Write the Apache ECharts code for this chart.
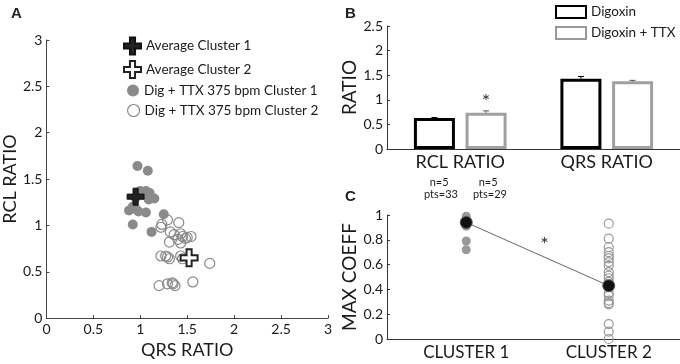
<!DOCTYPE html>
<html>
<head>
<meta charset="utf-8">
<script src="https://cdn.jsdelivr.net/npm/echarts@6/dist/echarts.min.js"></script>
<style>
  html, body { margin: 0; padding: 0; background: #fff; }
  #chart { width: 680px; height: 364px; }
</style>
</head>
<body>
<div id="chart"></div>
<script>
// A: RCL ratio vs QRS ratio
const cluster1Pts = [
  [0.97, 1.64], [1.08, 1.59], [1.0, 1.37], [1.06, 1.37], [1.1, 1.35], [1.15, 1.29],
  [1.09, 1.28], [0.95, 1.3], [0.88, 1.16], [0.95, 1.18], [0.92, 1.2], [1.06, 1.14],
  [0.98, 1.15], [0.92, 1.01], [1.12, 0.93], [1.25, 1.12]
];
const cluster2Pts = [
  [1.22, 0.98], [1.23, 1.01], [1.29, 1.06], [1.41, 1.03], [1.32, 0.93], [1.36, 0.9],
  [1.43, 0.91], [1.45, 0.88], [1.5, 0.87], [1.54, 0.88], [1.48, 0.86], [1.31, 0.82],
  [1.43, 0.81], [1.4, 0.85], [1.22, 0.67], [1.27, 0.67], [1.31, 0.64], [1.29, 0.66],
  [1.43, 0.67], [1.45, 0.64], [1.74, 0.59], [1.2, 0.35], [1.29, 0.37], [1.34, 0.38],
  [1.37, 0.35], [1.35, 0.37], [1.56, 0.39]
];
const avgCluster1 = [0.95, 1.31];
const avgCluster2 = [1.52, 0.65];

// B: mean ratios
const ratioCats = ["RCL RATIO", "QRS RATIO"];
const digoxin = [0.63, 1.43];
const digoxinErr = [0.01, 0.045];
const digoxinTtx = [0.735, 1.375];
const digoxinTtxErr = [0.04, 0.02];

// C: max coefficient per cluster
const coeffCluster1 = [0.99, 0.97, 0.96, 0.95, 0.94, 0.93, 0.92, 0.91, 0.79, 0.72];
const coeffCluster2 = [
  0.93, 0.81, 0.74, 0.7, 0.67, 0.65, 0.62, 0.59, 0.54, 0.51, 0.49, 0.46, 0.42,
  0.37, 0.35, 0.31, 0.29, 0.28, 0.12, 0.06, 0.0
];
const coeffMeans = [0.94, 0.43];

const FONT = "Lato";
const TXT = "#1a1a1a";
const plusPath = "path://M35,0H65V35H100V65H65V100H35V65H0V35H35Z";
const axisCol = "#444";

const chart = echarts.init(document.getElementById("chart"));

const tickLabel = { fontFamily: FONT, fontSize: 14, color: TXT };
const nameStyle = { fontFamily: FONT, fontSize: 18, color: TXT };
const legendText = { fontFamily: FONT, fontSize: 13.5, color: TXT };
const openCircle = { color: "rgba(255,255,255,0)", borderColor: "#8a8a8a", borderWidth: 1.2, opacity: 1 };

function errBars(vals, errs, off, col) {
  return {
    type: "custom",
    xAxisIndex: 1,
    yAxisIndex: 1,
    z: 5,
    data: vals.map((v, i) => [i, v, v + errs[i]]),
    renderItem: function (params, api) {
      const base = api.coord([api.value(0), api.value(1)]);
      const top = api.coord([api.value(0), api.value(2)]);
      const x = base[0] + off;
      return {
        type: "group",
        children: [
          { type: "line", shape: { x1: x, y1: base[1], x2: x, y2: top[1] }, style: { stroke: col, lineWidth: 1 } },
          { type: "line", shape: { x1: x - 3, y1: top[1], x2: x + 3, y2: top[1] }, style: { stroke: col, lineWidth: 1 } },
        ],
      };
    },
  };
}

const option = {
  animation: false,
  textStyle: { fontFamily: FONT },
  grid: [
    { left: 45, top: 40, width: 283, height: 283 },
    { left: 387, top: 26, width: 312, height: 123 },
    { left: 387, top: 215, width: 310, height: 124 },
  ],
  legend: [
    {
      left: 123, top: 36.5, padding: 0, itemWidth: 17, itemHeight: 17, itemGap: 0,
      textStyle: legendText, data: ["Average Cluster 1"],
    },
    {
      left: 123, top: 60, padding: 0, itemWidth: 17, itemHeight: 17, itemGap: 0,
      textStyle: legendText, data: ["Average Cluster 2"],
    },
    {
      left: 127, top: 83.5, padding: 0, itemWidth: 12, itemHeight: 12,
      textStyle: legendText, data: ["Dig + TTX 375 bpm Cluster 1"],
    },
    {
      left: 127, top: 103.5, padding: 0, itemWidth: 12, itemHeight: 12,
      textStyle: legendText,
      data: [{ name: "Dig + TTX 375 bpm Cluster 2", itemStyle: openCircle }],
    },
    {
      left: 555, top: 5, padding: 0, orient: "vertical", itemWidth: 30, itemHeight: 12, itemGap: 7,
      icon: "rect", textStyle: legendText,
      data: [
        { name: "Digoxin", itemStyle: { color: "#fff", borderColor: "#000", borderWidth: 2 } },
        { name: "Digoxin + TTX", itemStyle: { color: "#fff", borderColor: "#999", borderWidth: 2 } },
      ],
    },
  ],
  xAxis: [
    {
      gridIndex: 0, type: "value", min: 0, max: 3, interval: 0.5,
      name: "QRS RATIO", nameLocation: "middle", nameGap: 16, nameTextStyle: nameStyle,
      axisLine: { lineStyle: { color: axisCol } },
      axisTick: { inside: true, length: 3, lineStyle: { color: axisCol } },
      axisLabel: Object.assign({ margin: 4 }, tickLabel),
      splitLine: { show: false },
    },
    {
      gridIndex: 1, type: "category", data: ratioCats,
      axisLine: { lineStyle: { color: "#333" } },
      axisTick: { show: false },
      axisLabel: { fontFamily: FONT, fontSize: 18, color: TXT, margin: 4 },
    },
    {
      gridIndex: 2, type: "value", min: 0.444, max: 2.5,
      axisLine: { lineStyle: { color: "#333" } },
      axisTick: { show: false },
      axisLabel: {
        customValues: [1, 2],
        formatter: (v) => (v === 1 ? "CLUSTER 1" : "CLUSTER 2"),
        fontFamily: FONT, fontSize: 17, color: TXT, margin: 5,
      },
      splitLine: { show: false },
    },
  ],
  yAxis: [
    {
      gridIndex: 0, type: "value", min: 0, max: 3, interval: 0.5,
      name: "RCL RATIO", nameLocation: "middle", nameGap: 25, nameTextStyle: nameStyle,
      axisLine: { lineStyle: { color: axisCol } },
      axisTick: { inside: true, length: 3, lineStyle: { color: axisCol } },
      axisLabel: Object.assign({ margin: 4 }, tickLabel),
      splitLine: { show: false },
    },
    {
      gridIndex: 1, type: "value", min: 0, max: 2.5, interval: 0.5,
      name: "RATIO", nameLocation: "middle", nameGap: 26, nameTextStyle: Object.assign({}, nameStyle, { fontSize: 19 }),
      axisLine: { show: true, lineStyle: { color: "#333" } },
      axisTick: { show: true, inside: true, length: 3, lineStyle: { color: "#333" } },
      axisLabel: Object.assign({ margin: 4 }, tickLabel),
      splitLine: { show: false },
    },
    {
      gridIndex: 2, type: "value", min: 0, max: 1, interval: 0.2,
      name: "MAX COEFF", nameLocation: "middle", nameGap: 26, nameTextStyle: Object.assign({}, nameStyle, { fontSize: 19 }),
      axisLine: { show: true, lineStyle: { color: "#333" } },
      axisTick: { show: true, inside: true, length: 3, lineStyle: { color: "#333" } },
      axisLabel: Object.assign({ margin: 4 }, tickLabel),
      splitLine: { show: false },
    },
  ],
  series: [
    // A
    {
      name: "Dig + TTX 375 bpm Cluster 1", type: "scatter", xAxisIndex: 0, yAxisIndex: 0,
      symbol: "circle", symbolSize: 10, data: cluster1Pts,
      itemStyle: { color: "#8a8a8a", opacity: 1 },
    },
    {
      name: "Dig + TTX 375 bpm Cluster 2", type: "scatter", xAxisIndex: 0, yAxisIndex: 0,
      symbol: "circle", symbolSize: 10, data: cluster2Pts,
      itemStyle: openCircle,
    },
    {
      name: "Average Cluster 1", type: "scatter", xAxisIndex: 0, yAxisIndex: 0, z: 5,
      symbol: plusPath, symbolSize: 17, data: [avgCluster1],
      itemStyle: { color: "#222", borderColor: "#111", borderWidth: 1, opacity: 1 },
    },
    {
      name: "Average Cluster 2", type: "scatter", xAxisIndex: 0, yAxisIndex: 0, z: 5,
      symbol: plusPath, symbolSize: 17, data: [avgCluster2],
      itemStyle: { color: "#fff", borderColor: "#222", borderWidth: 2, opacity: 1 },
    },
    // B
    {
      name: "Digoxin", type: "bar", xAxisIndex: 1, yAxisIndex: 1,
      barWidth: 41, barGap: "26%", data: digoxin,
      itemStyle: { color: "#fff", borderColor: "#000", borderWidth: 3 },
    },
    {
      name: "Digoxin + TTX", type: "bar", xAxisIndex: 1, yAxisIndex: 1,
      barWidth: 41, data: digoxinTtx.map((v, i) => (i === 0 ? {
        value: v,
        label: { show: true, position: "top", distance: 1, formatter: "*", fontFamily: FONT, fontSize: 20, color: "#333" },
      } : v)),
      itemStyle: { color: "#fff", borderColor: "#a0a0a0", borderWidth: 3 },
    },
    errBars(digoxin, digoxinErr, -25.8, "#000"),
    errBars(digoxinTtx, digoxinTtxErr, 25.8, "#555"),
    // C
    {
      type: "line", xAxisIndex: 2, yAxisIndex: 2, z: 3,
      data: [[1, coeffMeans[0]], [2, coeffMeans[1]]], symbol: "none",
      lineStyle: { color: "#666", width: 1 },
      markPoint: {
        symbol: "circle", symbolSize: 0,
        label: { show: true, formatter: "*", fontFamily: FONT, fontSize: 20, color: "#333" },
        data: [{ coord: [1.55, 0.76] }],
      },
    },
    {
      type: "scatter", xAxisIndex: 2, yAxisIndex: 2, z: 2,
      symbol: "circle", symbolSize: 9, data: coeffCluster1.map((v) => [1, v]),
      itemStyle: { color: "#999", opacity: 1 },
    },
    {
      type: "scatter", xAxisIndex: 2, yAxisIndex: 2, z: 2,
      symbol: "circle", symbolSize: 9, data: coeffCluster2.map((v) => [2, v]),
      itemStyle: { color: "rgba(255,255,255,0)", borderColor: "#999", borderWidth: 1.2, opacity: 1 },
    },
    {
      type: "scatter", xAxisIndex: 2, yAxisIndex: 2, z: 4,
      symbol: "circle", symbolSize: 12, data: coeffMeans.map((v, i) => [i + 1, v]),
      itemStyle: { color: "#111", borderColor: "#555", borderWidth: 1, opacity: 1 },
    },
  ],
  graphic: [
    { type: "text", left: 11, top: 6, style: { text: "A", font: "bold 15px 'Liberation Sans'", fill: "#222" } },
    { type: "text", left: 345, top: 6, style: { text: "B", font: "bold 15px 'Liberation Sans'", fill: "#222" } },
    { type: "text", left: 345, top: 189, style: { text: "C", font: "bold 15px 'Liberation Sans'", fill: "#222" } },
    { type: "text", left: 424, top: 176, style: { text: "  n=5\npts=33", font: "11px Lato", fill: TXT, lineHeight: 12 } },
    { type: "text", left: 473, top: 176, style: { text: "  n=5\npts=29", font: "11px Lato", fill: TXT, lineHeight: 12 } },
  ],
};

chart.setOption(option);
</script>
</body>
</html>
